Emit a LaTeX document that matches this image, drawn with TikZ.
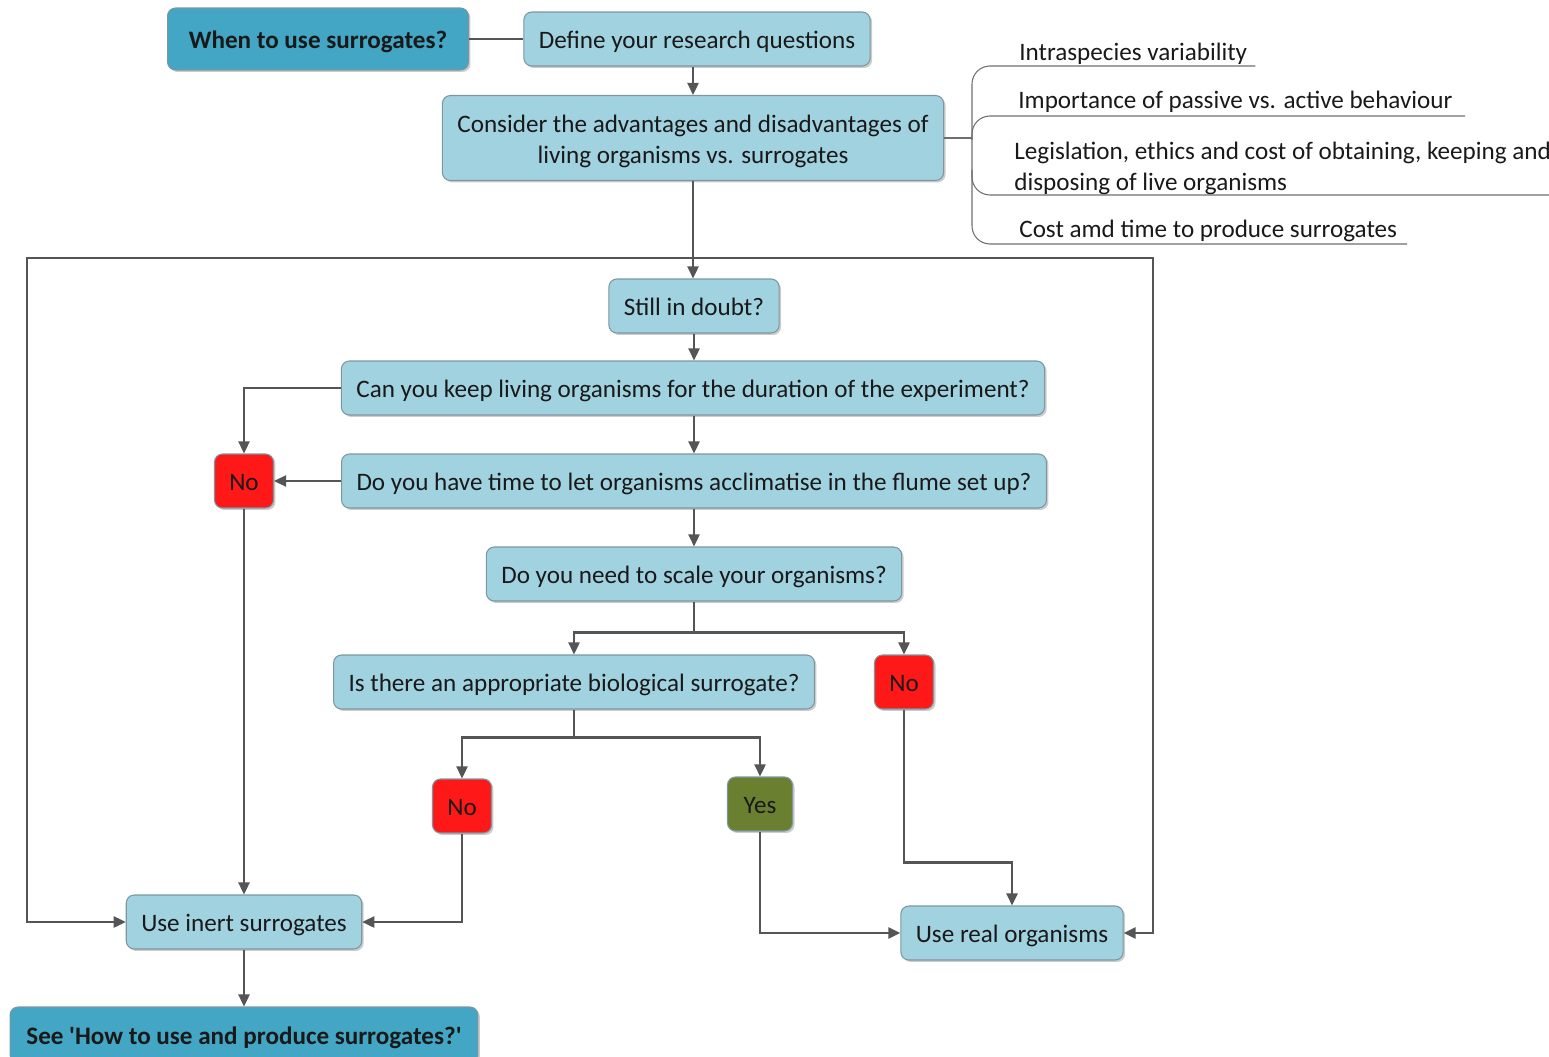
\documentclass[tikz,border=0pt]{standalone}
\usepackage{fontspec}
\setmainfont{Carlito}
\usetikzlibrary{arrows.meta, shadows}
\definecolor{boxblue}{RGB}{161,210,224}
\definecolor{headblue}{RGB}{66,166,196}
\definecolor{nored}{RGB}{255,24,24}
\definecolor{yesgreen}{RGB}{106,128,48}
\definecolor{linegray}{RGB}{85,85,85}
\definecolor{edgegray}{RGB}{125,150,160}
\definecolor{inkblack}{RGB}{25,25,25}

\begin{document}
\begin{tikzpicture}[x=0.02cm, y=-0.02cm, >={Triangle[length=0.24cm,width=0.22cm]},
    box/.style={draw=edgegray, fill=boxblue, text=inkblack, rounded corners=0.16cm,
        line width=0.6pt, inner xsep=0.3cm, minimum height=1.08cm,
        text height=12pt, text depth=1pt,
        font=\fontsize{14.3}{17.6}\selectfont,
        drop shadow={shadow xshift=0.04cm, shadow yshift=-0.04cm, opacity=0.2, fill=black}},
    headbox/.style={box, fill=headblue, font=\fontsize{14.3}{17.6}\selectfont\bfseries, minimum height=1.24cm},
    nobox/.style={box, fill=nored, inner xsep=0pt, minimum width=1.18cm},
    yesbox/.style={box, fill=yesgreen, inner xsep=0pt, minimum width=1.3cm},
    flow/.style={->, draw=linegray, line width=1.4pt},
    note/.style={text=inkblack, font=\fontsize{14.3}{17.6}\selectfont, align=left, inner sep=0pt},
    brace/.style={draw=linegray!85, line width=0.6pt, rounded corners=0.36cm}]
    \useasboundingbox (0,0) rectangle (1549,1057);

    % Boxes
    \node[headbox, minimum width=6.02cm] (when) at (318,39) {When to use surrogates?};
    \node[box] (define) at (697,39) {Define your research questions};
    \node[box, align=center, minimum height=1.7cm, text height={}, text depth={}] (consider) at (693,138)
        {\rule{0pt}{13.6pt}Consider the advantages and disadvantages of\\ living organisms vs. surrogates};
    \node[box] (doubt) at (694,306) {Still in doubt?};
    \node[box] (keep) at (693,388) {Can you keep living organisms for the duration of the experiment?};
    \node[box] (time) at (694,481) {Do you have time to let organisms acclimatise in the flume set up?};
    \node[nobox] (noa) at (244,481) {No};
    \node[box] (scale) at (694,574) {Do you need to scale your organisms?};
    \node[box] (bio) at (574,682) {Is there an appropriate biological surrogate?};
    \node[nobox] (nob) at (904,682) {No};
    \node[nobox] (noc) at (462,806) {No};
    \node[yesbox] (yes) at (760,804) {Yes};
    \node[box] (inert) at (244,922) {Use inert surrogates};
    \node[box] (real) at (1012,933) {Use real organisms};
    \node[headbox, minimum width=9.36cm, minimum height=1.12cm] (see) at (244,1035)
        {See \textquotesingle How to use and produce surrogates?\textquotesingle};

    % Notes
    \node[note, anchor=west] (var) at (1019,54) {Intraspecies variability};
    \node[note, anchor=west] (pass) at (1018,102) {Importance of passive vs. active behaviour};
    \node[note, anchor=west] (legis) at (1014,168) {Legislation, ethics and cost of obtaining, keeping and\\disposing of live organisms};
    \node[note, anchor=west] (cost) at (1019,231) {Cost amd time to produce surrogates};
    \draw[brace] (consider.east) -- (consider.east -| 972,0);
    \draw[brace] (var.east |- 0,66) ++(8,0) -- (972,66) -- (972,244) -- (1407,244);
    \draw[brace] (972,140) -- (972,116) -- (1465,116);
    \draw[brace] (972,170) -- (972,195) -- (1549,195);

    % Connectors
    \draw[draw=linegray, line width=1pt] (when) -- (define);
    \draw[flow] (define.south -| consider.north) -- (consider.north);
    \draw[flow] (consider.south) -- (consider.south |- doubt.north);
    \coordinate (loop) at (694,258);
    \draw[flow] (loop) -- (27,258) |- (inert);
    \draw[flow] (loop) -- (1153,258) |- (real);
    \draw[flow] (doubt.south) -- (doubt.south |- keep.north);
    \draw[flow] (keep.south -| time.north) -- (time.north);
    \draw[flow] (keep.west) -| (noa);
    \draw[flow] (time) -- (noa);
    \draw[flow] (time) -- (scale);
    \draw[flow] (scale.south) -- ++(0,31) -| (bio);
    \draw[flow] (scale.south) -- ++(0,31) -| (nob);
    \draw[flow] (bio.south) -- ++(0,28) -| (noc);
    \draw[flow] (bio.south) -- ++(0,28) -| (yes);
    \draw[flow] (noa) -- (inert);
    \draw[flow] (noc) |- (inert);
    \draw[flow] (yes) |- (real);
    \draw[flow] (nob.south) -- ++(0,153) -| (real);
    \draw[flow] (inert) -- (see);
\end{tikzpicture}
\end{document}
